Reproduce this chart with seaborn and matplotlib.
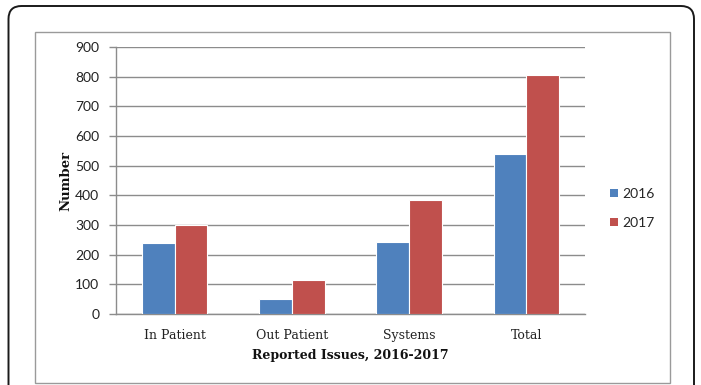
import matplotlib
matplotlib.use("Agg")
import matplotlib.pyplot as plt
from matplotlib.patches import FancyBboxPatch, Rectangle, Patch
import seaborn as sns
import pandas as pd

categories = ["In Patient", "Out Patient", "Systems", "Total"]
years = ["2016", "2017"]
values_2016 = [241, 50, 242, 540]
values_2017 = [300, 113, 385, 805]
y_ticks = [0, 100, 200, 300, 400, 500, 600, 700, 800, 900]

df = pd.DataFrame({
    "Category": categories * 2,
    "Year": [years[0]] * len(categories) + [years[1]] * len(categories),
    "Number": values_2016 + values_2017,
})

sns.set_theme(style="white")
plt.rcParams["font.family"] = ["DejaVu Serif"]

fig = plt.figure(figsize=(7.01, 3.85), dpi=100)
fig.patch.set_facecolor("white")

# outer rounded frame and inner chart-area frame (in inches)
outer = FancyBboxPatch((0.085, -0.2), 6.855, 3.99,
                       boxstyle="round,pad=0,rounding_size=0.13",
                       transform=fig.dpi_scale_trans, fill=False,
                       edgecolor="#1a1a1a", linewidth=1.4, zorder=0)
fig.patches.append(outer)
inner = Rectangle((0.35, 0.02), 6.35, 3.51, transform=fig.dpi_scale_trans,
                  fill=False, edgecolor="#9a9a9a", linewidth=1.0, zorder=0)
fig.patches.append(inner)

ax = fig.add_axes([116 / 701, 1 - 314 / 385, (585 - 116) / 701, (314 - 47) / 385])
palette = {"2016": "#4F81BD", "2017": "#C0504D"}
sns.barplot(data=df, x="Category", y="Number", hue="Year", order=categories,
            hue_order=years, palette=palette, width=0.56, saturation=1,
            edgecolor="white", linewidth=0.8, ax=ax, legend=False, zorder=3)

ax.set_ylim(0, 900)
ax.set_yticks(y_ticks)
ax.set_xlim(-0.5, len(categories) - 0.5)
ax.yaxis.grid(True, color="#8c8c8c", linewidth=1.0, zorder=0)
ax.set_axisbelow(True)
for s in ["top", "right"]:
    ax.spines[s].set_visible(False)
for s in ["left", "bottom"]:
    ax.spines[s].set_color("#8c8c8c")
    ax.spines[s].set_linewidth(1.0)

ax.tick_params(axis="y", which="major", left=True, length=5, width=1.0,
               color="#8c8c8c", pad=7)
ax.tick_params(axis="x", bottom=False, pad=5)
for lab in ax.get_yticklabels():
    lab.set_fontfamily("Lato")
    lab.set_fontsize(10)
    lab.set_color("#222222")
for lab in ax.get_xticklabels():
    lab.set_fontfamily("DejaVu Serif")
    lab.set_fontsize(9)
    lab.set_color("#222222")

ax.set_xlabel("Reported Issues, 2016-2017", fontsize=9, fontweight="bold",
              family="DejaVu Serif", color="#111111", labelpad=5)
ax.set_ylabel("Number", fontsize=9.5, fontweight="bold", family="DejaVu Serif",
              color="#111111", labelpad=2)

handles = [Patch(facecolor=palette[y], edgecolor="none") for y in years]
leg = fig.legend(handles, years, loc="upper left",
                 bbox_to_anchor=(610 / 701, 1 - 188 / 385), frameon=False,
                 prop={"family": "Lato", "size": 10}, handlelength=0.55,
                 handleheight=0.55, handletextpad=0.3, labelspacing=1.2,
                 borderpad=0, borderaxespad=0)

fig.savefig("out.png", dpi=100, facecolor="white")
